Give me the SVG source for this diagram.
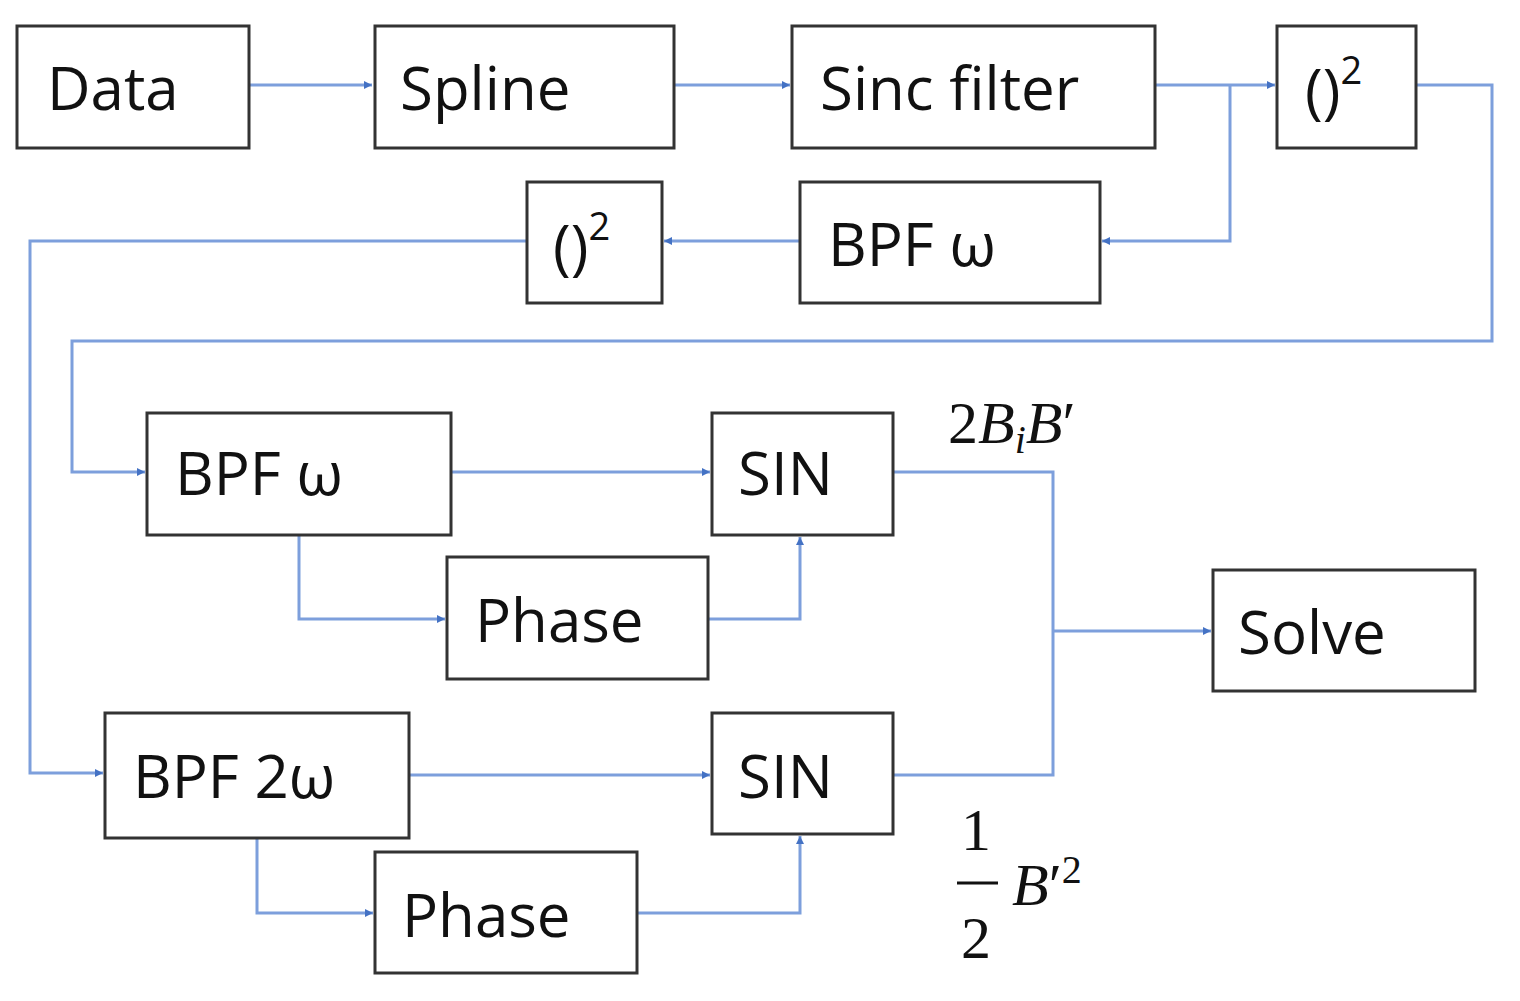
<svg xmlns="http://www.w3.org/2000/svg" width="1520" height="1001" viewBox="0 0 1520 1001">
<style>
.b{fill:#fff;stroke:#333;stroke-width:3}
.t{font-family:"Open Sans","Liberation Sans",sans-serif;font-size:60px;fill:#111}
.c{fill:none;stroke:#7d9fdc;stroke-width:3}
.m{font-family:"Liberation Serif",serif;font-size:60px;fill:#111}
</style>
<defs><marker id="a" viewBox="0 0 10 10" refX="10" refY="5" markerWidth="8" markerHeight="8" markerUnits="userSpaceOnUse" orient="auto"><path d="M0,0L10,5L0,10z" fill="#4472c4"/></marker></defs>
<rect width="1520" height="1001" fill="#fff"/>
<g id="connectors" class="c">
<path marker-end="url(#a)" d="M249,85H372"/>
<path marker-end="url(#a)" d="M674,85H790"/>
<path marker-end="url(#a)" d="M1155,85H1275"/>
<path marker-end="url(#a)" d="M1230,85V241H1102"/>
<path marker-end="url(#a)" d="M800,241H664"/>
<path marker-end="url(#a)" d="M527,241H30V773H103"/>
<path marker-end="url(#a)" d="M1416,85H1492V341H72V472H145"/>
<path marker-end="url(#a)" d="M451,472H710"/>
<path marker-end="url(#a)" d="M299,535V619H445"/>
<path marker-end="url(#a)" d="M708,619H800V537"/>
<path d="M893,472H1053V775H893"/>
<path marker-end="url(#a)" d="M1053,631H1211"/>
<path marker-end="url(#a)" d="M409,775H710"/>
<path marker-end="url(#a)" d="M257,838V913H373"/>
<path marker-end="url(#a)" d="M637,913H800V836"/>
</g>
<g id="data"><rect class="b" x="17" y="26" width="232" height="122"/><text class="t" x="47" y="110">Data</text></g>
<g id="spline"><rect class="b" x="375" y="26" width="299" height="122"/><text class="t" x="400" y="110">Spline</text></g>
<g id="sinc"><rect class="b" x="792" y="26" width="363" height="122"/><text class="t" x="820" y="110">Sinc filter</text></g>
<g id="sq1"><rect class="b" x="1277" y="26" width="139" height="122"/><text class="t" x="1305" y="112">()<tspan font-size="38" dy="-28">2</tspan></text></g>
<g id="bpf1"><rect class="b" x="800" y="182" width="300" height="121"/><text class="t" x="828" y="266">BPF ω</text></g>
<g id="sq2"><rect class="b" x="527" y="182" width="135" height="121"/><text class="t" x="553" y="268">()<tspan font-size="38" dy="-28">2</tspan></text></g>
<g id="bpf2"><rect class="b" x="147" y="413" width="304" height="122"/><text class="t" x="175" y="495">BPF ω</text></g>
<g id="sin1"><rect class="b" x="712" y="413" width="181" height="122"/><text class="t" x="738" y="495">SIN</text></g>
<g id="phase1"><rect class="b" x="447" y="557" width="261" height="122"/><text class="t" x="475" y="642">Phase</text></g>
<g id="solve"><rect class="b" x="1213" y="570" width="262" height="121"/><text class="t" x="1238" y="654">Solve</text></g>
<g id="bpf3"><rect class="b" x="105" y="713" width="304" height="125"/><text class="t" x="133" y="798">BPF 2ω</text></g>
<g id="sin2"><rect class="b" x="712" y="713" width="181" height="121"/><text class="t" x="738" y="798">SIN</text></g>
<g id="phase2"><rect class="b" x="375" y="852" width="262" height="121"/><text class="t" x="402" y="937">Phase</text></g>
<g id="labels">
<text class="m" x="948" y="443">2<tspan font-style="italic">B</tspan><tspan font-style="italic" font-size="40" dy="10">i</tspan><tspan font-style="italic" dy="-10">B</tspan>′</text>
<text class="m" x="961" y="850">1</text>
<line x1="957" y1="883" x2="998" y2="883" stroke="#111" stroke-width="3"/>
<text class="m" x="961" y="958">2</text>
<text class="m" x="1012" y="905"><tspan font-style="italic">B</tspan>′<tspan font-size="40" dy="-22">2</tspan></text>
</g>
</svg>
